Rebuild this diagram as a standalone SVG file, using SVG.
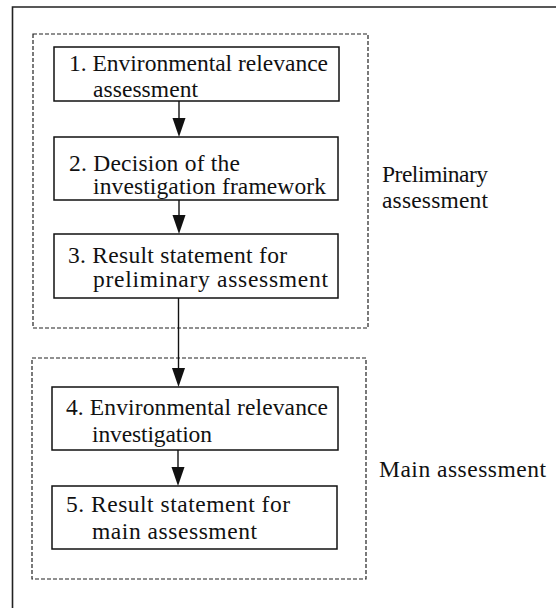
<svg xmlns="http://www.w3.org/2000/svg" width="556" height="608" viewBox="0 0 556 608">
<defs>
<style>
.frame{fill:none;stroke:#222;stroke-width:1.6}
.dash{fill:none;stroke:#222;stroke-width:1.2;stroke-dasharray:4 2}
.box{fill:#fff;stroke:#111;stroke-width:1.5}
.t{font-family:"Liberation Serif","Times New Roman",serif;font-size:23.5px;fill:#111}
.ln{stroke:#111;stroke-width:1.4;fill:none}
.ah{fill:#111}
</style>
</defs>
<rect width="556" height="608" fill="#fff"/>
<path class="frame" d="M12.5,608 V7 H556"/>
<g id="group-preliminary">
<rect class="dash" x="33" y="34" width="335" height="294"/>
<text class="t" x="382" y="182" textLength="106" lengthAdjust="spacing">Preliminary</text>
<text class="t" x="382" y="208" textLength="106" lengthAdjust="spacing">assessment</text>
</g>
<g id="group-main">
<rect class="dash" x="32" y="358" width="334" height="221"/>
<text class="t" x="379" y="477" textLength="167" lengthAdjust="spacing">Main assessment</text>
</g>
<g id="connectors">
<line class="ln" x1="179" y1="101" x2="179" y2="120"/>
<polygon class="ah" points="172.5,118 185.5,118 179,137"/>
<line class="ln" x1="179" y1="200" x2="179" y2="217"/>
<polygon class="ah" points="172.5,215 185.5,215 179,234"/>
<line class="ln" x1="178.5" y1="298" x2="178.5" y2="370"/>
<polygon class="ah" points="172,368 185,368 178.5,387"/>
<line class="ln" x1="178" y1="450" x2="178" y2="469"/>
<polygon class="ah" points="171.5,467 184.5,467 178,486"/>
</g>
<g id="node1">
<rect class="box" x="54" y="47" width="285" height="54"/>
<text class="t" x="69" y="71" textLength="259" lengthAdjust="spacing">1. Environmental relevance</text>
<text class="t" x="93" y="97" textLength="105" lengthAdjust="spacing">assessment</text>
</g>
<g id="node2">
<rect class="box" x="54" y="137" width="284" height="63"/>
<text class="t" x="69" y="171" textLength="171" lengthAdjust="spacing">2. Decision of the</text>
<text class="t" x="93" y="194" textLength="233" lengthAdjust="spacing">investigation framework</text>
</g>
<g id="node3">
<rect class="box" x="54" y="234" width="284" height="64"/>
<text class="t" x="68" y="263" textLength="219" lengthAdjust="spacing">3. Result statement for</text>
<text class="t" x="93" y="287" textLength="235" lengthAdjust="spacing">preliminary assessment</text>
</g>
<g id="node4">
<rect class="box" x="52" y="387" width="286" height="63"/>
<text class="t" x="66" y="415" textLength="262" lengthAdjust="spacing">4. Environmental relevance</text>
<text class="t" x="92" y="442" textLength="120" lengthAdjust="spacing">investigation</text>
</g>
<g id="node5">
<rect class="box" x="52" y="486" width="285" height="63"/>
<text class="t" x="66" y="512" textLength="224" lengthAdjust="spacing">5. Result statement for</text>
<text class="t" x="92" y="539" textLength="165" lengthAdjust="spacing">main assessment</text>
</g>
</svg>
